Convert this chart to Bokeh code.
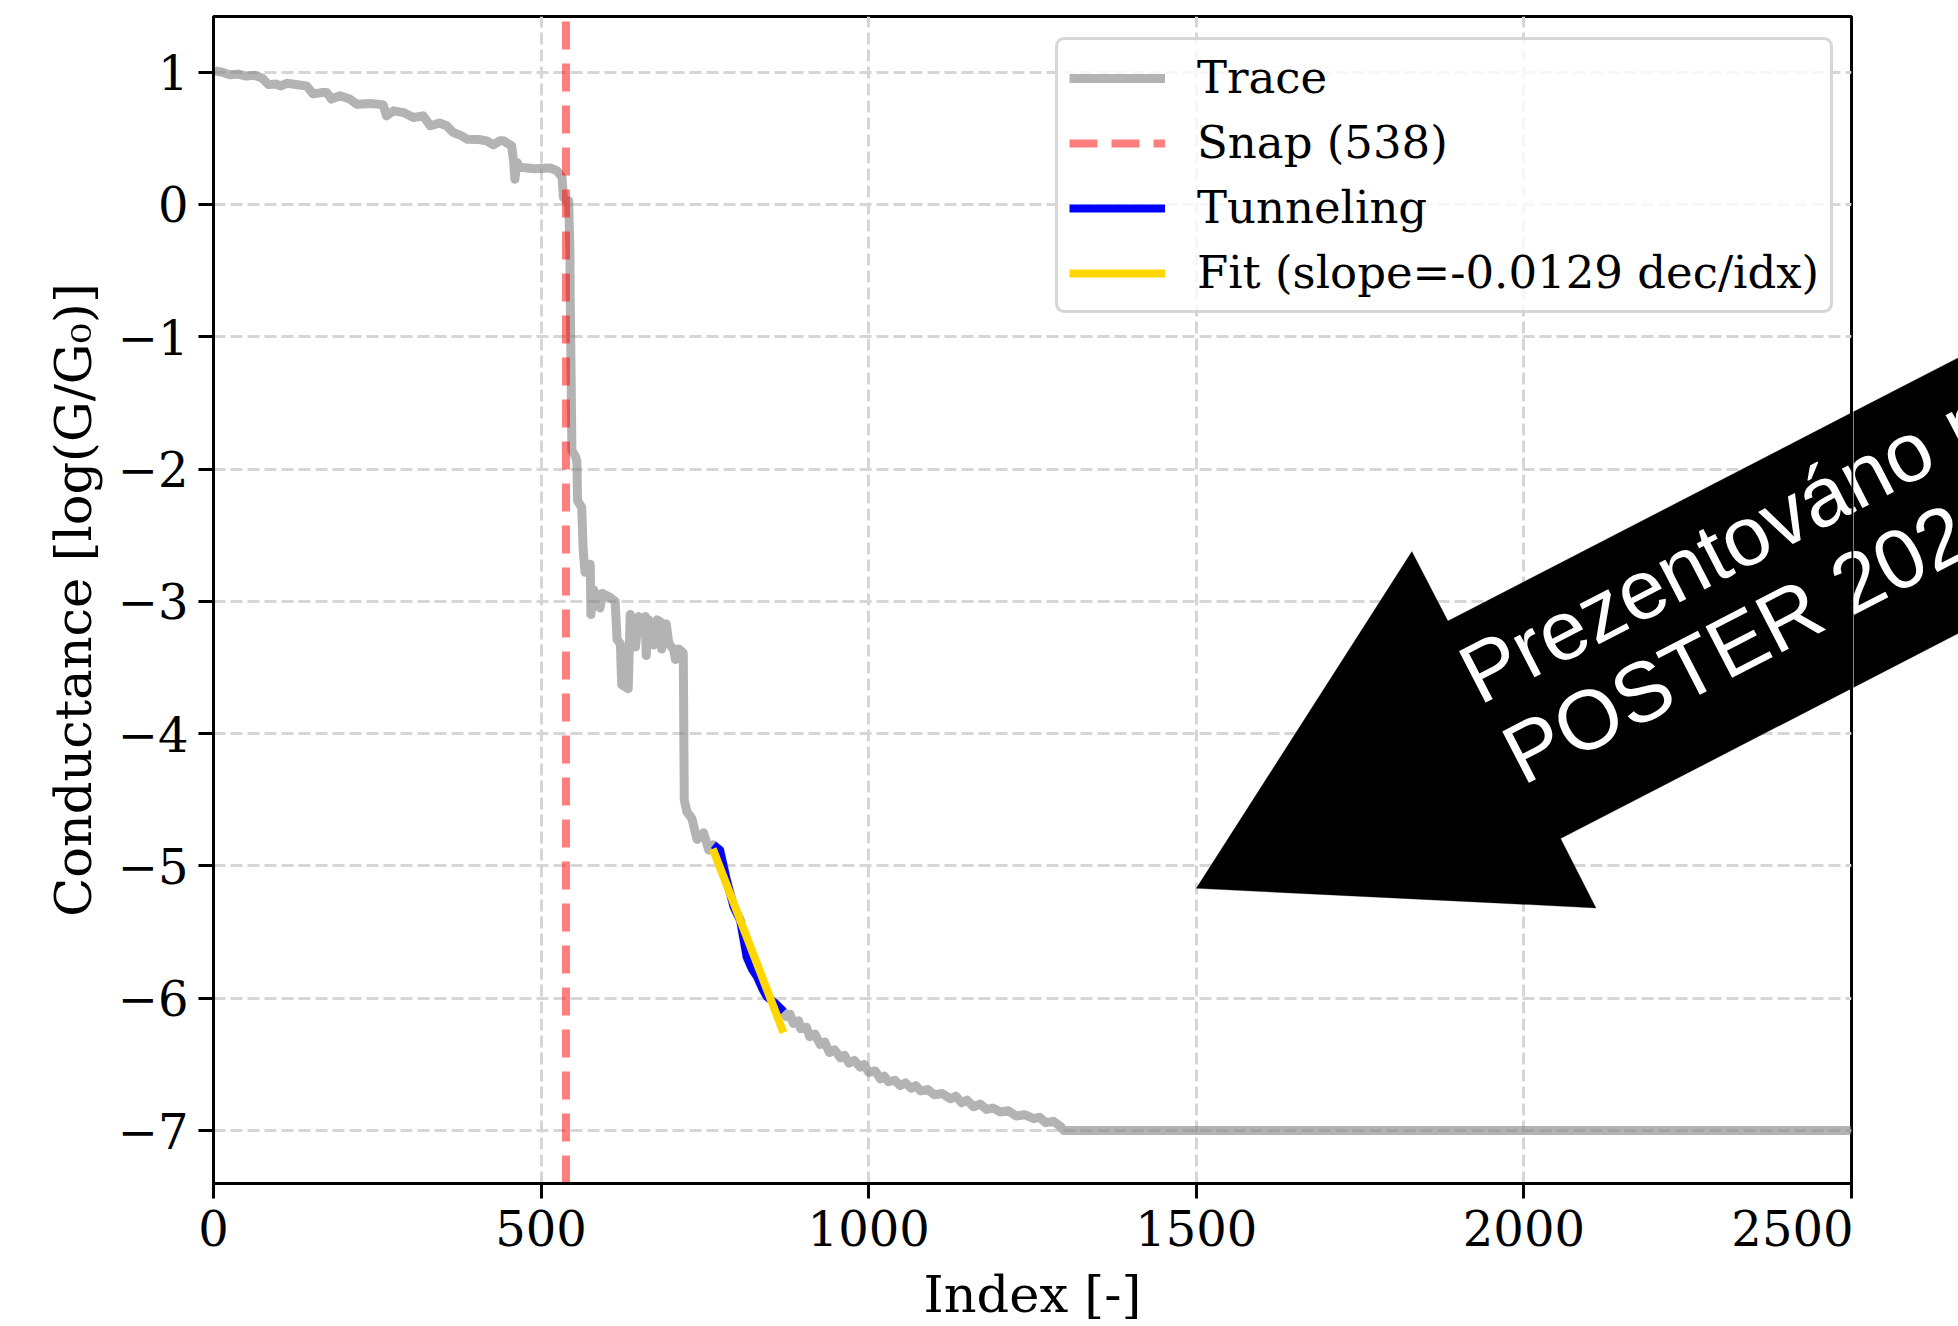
from bokeh.plotting import figure
from bokeh.layouts import row
from bokeh.models import Range1d, FixedTicker, Legend, LegendItem, PolyAnnotation, Label
from bokeh.embed import file_html
from bokeh.resources import INLINE

# ---------------- data ----------------
trace_idx = [0, 2, 12, 25, 38, 50, 62, 74, 84, 95, 102, 112, 142, 152, 165, 173, 180, 193, 208, 219,
             240, 259, 264, 275, 290, 305, 320, 331, 345, 356, 366, 378, 387, 405, 417, 427, 437, 443,
             455, 458, 460, 463, 468, 490, 514, 524, 532, 534, 538, 542, 544, 544.5, 546, 547, 552,
             554.6, 555.7, 562, 564, 567, 575, 576, 580, 585, 590, 593, 605, 613, 616, 621, 623, 633,
             636, 644, 649, 655, 659, 660.5, 664, 672, 677, 682, 684, 691, 695, 702, 705, 710, 717,
             718.5, 722.5, 730, 738, 748, 756, 761, 763, 773, 783, 794, 804, 814, 822, 830, 838, 845,
             858, 870, 875, 880, 885, 893, 896, 905, 910, 918, 926, 933, 940, 948, 957, 963, 970, 978,
             987, 993, 1000, 1010, 1018, 1024, 1030, 1040, 1048, 1056, 1065, 1072, 1079, 1090, 1100,
             1112, 1125, 1133, 1142, 1150, 1160, 1170, 1180, 1190, 1201, 1213, 1225, 1238, 1252, 1261,
             1270, 1282, 1293, 1298, 2500]
trace_val = [1.02, 1.01, 1.0, 0.98, 0.985, 0.97, 0.975, 0.955, 0.905, 0.91, 0.895, 0.915, 0.895, 0.835,
             0.845, 0.846, 0.796, 0.821, 0.796, 0.757, 0.762, 0.752, 0.669, 0.707, 0.694, 0.657, 0.669,
             0.594, 0.615, 0.594, 0.543, 0.52, 0.493, 0.49, 0.48, 0.45, 0.48, 0.48, 0.442, 0.33, 0.19,
             0.318, 0.28, 0.27, 0.275, 0.255, 0.205, 0.054, 0.03, 0.028, -0.35, -0.73, -1.4, -1.86,
             -1.9, -1.94, -2.24, -2.29, -2.59, -2.78, -2.72, -3.1, -2.91, -2.98, -3.05, -2.94, -2.97,
             -3.0, -3.29, -3.32, -3.63, -3.66, -3.1, -3.345, -3.115, -3.2, -3.115, -3.41, -3.14, -3.33,
             -3.14, -3.155, -3.36, -3.17, -3.32, -3.36, -3.44, -3.36, -3.39, -4.5, -4.59, -4.64, -4.8,
             -4.75, -4.88, -4.86, -4.84, -4.88, -5.1, -5.31, -5.41, -5.69, -5.78, -5.84, -5.93, -5.99,
             -6.04, -6.10, -6.14, -6.12, -6.19, -6.17, -6.23, -6.22, -6.29, -6.27, -6.35, -6.33, -6.41,
             -6.39, -6.45, -6.43, -6.49, -6.47, -6.52, -6.50, -6.56, -6.55, -6.61, -6.59, -6.63, -6.62,
             -6.66, -6.64, -6.68, -6.66, -6.70, -6.69, -6.73, -6.72, -6.76, -6.74, -6.79, -6.77, -6.82,
             -6.80, -6.84, -6.83, -6.86, -6.85, -6.89, -6.88, -6.91, -6.90, -6.94, -6.93, -6.97, -7.0,
             -7.0]

tunnel_idx = [763, 773, 783, 794, 804, 814, 822, 830, 838, 845, 858, 870]
tunnel_val = [-4.84, -4.88, -5.10, -5.31, -5.41, -5.69, -5.78, -5.84, -5.93, -5.99, -6.04, -6.10]

fit_idx = [762, 870]
fit_val = [-4.87, -6.26]

snap_idx = 538

x_ticks = [0, 500, 1000, 1500, 2000, 2500]
y_ticks = [-7, -6, -5, -4, -3, -2, -1, 0, 1]

legend_labels = ["Trace", "Snap (538)", "Tunneling", "Fit (slope=-0.0129 dec/idx)"]
banner_lines = ["Prezentováno na", "POSTER 2026"]

# banner arrow outline (data coordinates) and text anchors
arrow_xs = [2957, 1884, 1829, 1500, 2110, 2056, 2957]
arrow_ys = [-0.408, -3.149, -2.624, -5.169, -5.317, -4.793, -2.491]
banner_x = [1912, 1978]
banner_y = [-3.594, -4.201]

X_LO, X_HI = 0, 2500
Y_LO, Y_HI = -7.40, 1.42

SERIF = "DejaVu Serif"

# ---------------- layout geometry (pixels) ----------------
W_TOTAL, H = 1958, 1326
B_LEFT, B_RIGHT, B_TOP, B_BOTTOM = 213, 2, 16, 143
W_MAIN = 1853
px_per_idx = (W_MAIN - B_LEFT - B_RIGHT) / (X_HI - X_LO)
x2_lo = X_LO + (W_MAIN - B_LEFT) / px_per_idx
x2_hi = X_LO + (W_TOTAL - B_LEFT) / px_per_idx


def add_banner(fig):
    fig.add_layout(PolyAnnotation(xs=arrow_xs, ys=arrow_ys, fill_color="black", fill_alpha=1.0,
                                  line_color="black", line_width=1, level="overlay"))
    for txt, bx, by in zip(banner_lines, banner_x, banner_y):
        fig.add_layout(Label(x=bx, y=by, text=txt, angle=0.4765, angle_units="rad",
                             text_font="Liberation Sans", text_font_size="84px",
                             text_color="white", text_align="left", text_baseline="alphabetic",
                             level="overlay"))


p = figure(width=W_MAIN, height=H, x_range=Range1d(X_LO, X_HI), y_range=Range1d(Y_LO, Y_HI),
           output_backend="svg", toolbar_location=None,
           min_border_left=B_LEFT, min_border_right=B_RIGHT, min_border_top=B_TOP,
           min_border_bottom=B_BOTTOM, background_fill_color="white", border_fill_color="white")

p.outline_line_color = "black"
p.outline_line_width = 3
p.outline_line_alpha = 1.0

p.xaxis.ticker = FixedTicker(ticks=x_ticks)
p.yaxis.ticker = FixedTicker(ticks=y_ticks)
p.xgrid.ticker = FixedTicker(ticks=x_ticks)
p.ygrid.ticker = FixedTicker(ticks=y_ticks)
p.yaxis.major_label_overrides = {t: (str(t).replace("-", "\u2212")) for t in y_ticks}

p.xaxis.axis_label = "Index [-]"
p.yaxis.axis_label = "Conductance [log(G/G\u2080)]"

for ax in (p.xaxis[0], p.yaxis[0]):
    ax.axis_line_width = 3
    ax.axis_line_color = "black"
    ax.major_tick_line_width = 3
    ax.major_tick_line_color = "black"
    ax.major_tick_out = 15
    ax.major_tick_in = 0
    ax.minor_tick_line_color = None
    ax.major_label_text_font = SERIF
    ax.major_label_text_font_size = "48px"
    ax.major_label_text_color = "black"
    ax.axis_label_text_font = SERIF
    ax.axis_label_text_font_size = "51px"
    ax.axis_label_text_font_style = "normal"
    ax.axis_label_text_color = "black"

p.xaxis.major_label_standoff = 11
p.xaxis.axis_label_standoff = 16
p.yaxis.major_label_standoff = 10
p.yaxis.axis_label_standoff = 12

for g in (p.xgrid[0], p.ygrid[0]):
    g.grid_line_color = "#d6d6d6"
    g.grid_line_width = 3
    g.grid_line_dash = "12 5"

r_trace = p.line(trace_idx, trace_val, line_color="gray", line_alpha=0.6, line_width=9,
                 line_join="round")
r_snap = p.line([snap_idx, snap_idx], [Y_LO, Y_HI], line_color="red", line_alpha=0.5,
                line_width=8, line_dash="28 14")
r_tun = p.line(tunnel_idx, tunnel_val, line_color="blue", line_width=8, line_join="round")
r_fit = p.line(fit_idx, fit_val, line_color="gold", line_width=8)

legend = Legend(items=[LegendItem(label=legend_labels[0], renderers=[r_trace]),
                       LegendItem(label=legend_labels[1], renderers=[r_snap]),
                       LegendItem(label=legend_labels[2], renderers=[r_tun]),
                       LegendItem(label=legend_labels[3], renderers=[r_fit])],
                location=(842, 870), margin=0, padding=11, spacing=12,
                glyph_width=96, glyph_height=52, label_height=52, label_standoff=32,
                label_text_font=SERIF, label_text_font_size="45px", label_text_color="black",
                border_line_color="#cccccc", border_line_width=3, border_line_alpha=0.8,
                background_fill_color="white", background_fill_alpha=0.8)
if "border_radius" in legend.properties():
    legend.border_radius = 9
p.add_layout(legend)
add_banner(p)

# strip to the right of the axes box: only the continuation of the banner arrow
p2 = figure(width=W_TOTAL - W_MAIN, height=H, x_range=Range1d(x2_lo, x2_hi),
            y_range=Range1d(Y_LO, Y_HI), x_axis_type=None, y_axis_type=None,
            output_backend="svg", toolbar_location=None,
            min_border_left=0, min_border_right=0, min_border_top=B_TOP,
            min_border_bottom=B_BOTTOM, background_fill_color="white",
            border_fill_color="white")
p2.outline_line_color = None
add_banner(p2)

layout = row(p, p2, spacing=0)

with open("out.html", "w", encoding="utf-8") as f:
    f.write(file_html(layout, INLINE))
